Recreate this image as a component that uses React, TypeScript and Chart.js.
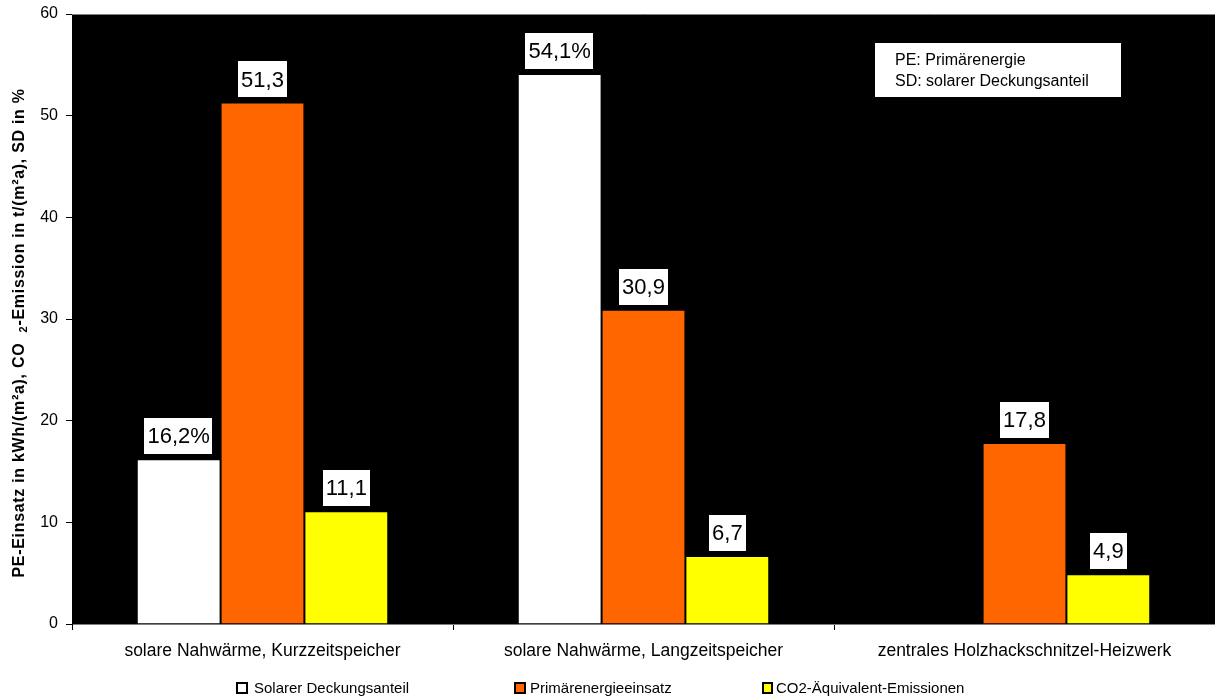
import React, { useEffect, useRef } from "react";
import { Chart, registerables } from "chart.js";

Chart.register(...registerables);

const categories = [
  "solare Nahwärme, Kurzzeitspeicher",
  "solare Nahwärme, Langzeitspeicher",
  "zentrales Holzhackschnitzel-Heizwerk",
];
const seriesNames = ["Solarer Deckungsanteil", "Primärenergieeinsatz", "CO2-Äquivalent-Emissionen"];
const solarShare: (number | null)[] = [16.2, 54.1, null];
const primaryEnergy: (number | null)[] = [51.3, 30.9, 17.8];
const co2Emissions: (number | null)[] = [11.1, 6.7, 4.9];
const seriesColors = ["#FFFFFF", "#FF6600", "#FFFF00"];
const labelSuffix = ["%", "", ""];
const yMin = 0;
const yMax = 60;
const yStep = 10;
const noteLines = ["PE: Primärenergie", "SD: solarer Deckungsanteil"];
const yTitleMain = "PE-Einsatz in kWh/(m²a), CO ";
const yTitleSub = "2";
const yTitleRest = "-Emission in t/(m²a), SD in %";

const FONT = "'Liberation Sans', Arial, Helvetica, sans-serif";

const decorPlugin = {
  id: "decor",
  beforeDraw(chart: any) {
    const { ctx, chartArea } = chart;
    ctx.save();
    ctx.fillStyle = "#000";
    ctx.fillRect(chartArea.left, chartArea.top, chartArea.right - chartArea.left, chartArea.bottom - chartArea.top);
    ctx.restore();
  },
  afterDatasetsDraw(chart: any) {
    const { ctx, chartArea } = chart;
    ctx.save();
    // top gray frame line
    ctx.strokeStyle = "#808080";
    ctx.lineWidth = 1;
    ctx.beginPath();
    ctx.moveTo(chartArea.left, chartArea.top + 0.5);
    ctx.lineTo(chartArea.right, chartArea.top + 0.5);
    ctx.stroke();

    // data labels
    ctx.font = `22px ${FONT}`;
    ctx.textAlign = "center";
    ctx.textBaseline = "middle";
    chart.data.datasets.forEach((ds: any, di: number) => {
      const meta = chart.getDatasetMeta(di);
      meta.data.forEach((el: any, i: number) => {
        const v = ds.data[i];
        if (v == null) return;
        const txt = v.toFixed(1).replace(".", ",") + labelSuffix[di];
        const w = ctx.measureText(txt).width + 6;
        const h = 36;
        const bottom = el.y - 5;
        ctx.fillStyle = "#fff";
        ctx.fillRect(Math.round(el.x - w / 2), Math.round(bottom - h), Math.round(w), h);
        ctx.fillStyle = "#000";
        ctx.fillText(txt, el.x, bottom - h / 2 + 1);
      });
    });

    // note box
    ctx.fillStyle = "#fff";
    ctx.fillRect(875, 43, 246, 54);
    ctx.fillStyle = "#000";
    ctx.font = `16px ${FONT}`;
    ctx.textAlign = "left";
    ctx.textBaseline = "alphabetic";
    ctx.fillText(noteLines[0], 895, 65);
    ctx.fillText(noteLines[1], 895, 86);

    // y title
    ctx.save();
    ctx.translate(24, 333);
    ctx.rotate(-Math.PI / 2);
    (ctx as any).letterSpacing = "0.7px";
    ctx.font = `bold 16px ${FONT}`;
    const wMain = ctx.measureText(yTitleMain + " ").width;
    const wRest = ctx.measureText(yTitleRest).width;
    ctx.font = `bold 11px ${FONT}`;
    const wSub = ctx.measureText(yTitleSub).width;
    const total = wMain + wSub + wRest;
    let x = -total / 2;
    ctx.textAlign = "left";
    ctx.textBaseline = "alphabetic";
    ctx.font = `bold 16px ${FONT}`;
    ctx.fillText(yTitleMain, x, 0);
    x += wMain;
    ctx.font = `bold 11px ${FONT}`;
    ctx.fillText(yTitleSub, x, 3);
    x += wSub;
    ctx.font = `bold 16px ${FONT}`;
    ctx.fillText(yTitleRest, x, 0);
    ctx.restore();

    // legend
    const legendItems = [
      { box: 237, w: 10, text: 254 },
      { box: 515, w: 10, text: 530 },
      { box: 763, w: 9, text: 776 },
    ];
    ctx.font = `15px ${FONT}`;
    ctx.textBaseline = "middle";
    ctx.textAlign = "left";
    legendItems.forEach((it, i) => {
      ctx.fillStyle = seriesColors[i];
      ctx.fillRect(it.box, 683, it.w, 10);
      ctx.strokeStyle = "#000";
      ctx.lineWidth = 2;
      ctx.strokeRect(it.box, 683, it.w, 10);
      ctx.fillStyle = "#000";
      ctx.fillText(seriesNames[i], it.text, 689);
    });
    ctx.restore();
  },
};

export default function App() {
  const ref = useRef<HTMLCanvasElement | null>(null);
  useEffect(() => {
    document.body.style.margin = "0";
    const canvas = ref.current!;
    const data = [solarShare, primaryEnergy, co2Emissions];
    const chart = new Chart(canvas, {
      type: "bar",
      data: {
        labels: categories,
        datasets: data.map((d, i) => ({
          label: seriesNames[i],
          data: d,
          backgroundColor: seriesColors[i],
          borderColor: "#000",
          borderWidth: 1,
          categoryPercentage: 0.66,
          barPercentage: 1.0,
        })),
      },
      options: {
        responsive: false,
        devicePixelRatio: 1,
        animation: false,
        layout: { padding: { top: 14, right: 0, left: 0, bottom: 0 } },
        plugins: {
          legend: { display: false },
          tooltip: { enabled: false },
        },
        scales: {
          x: {
            grid: {
              offset: true,
              drawOnChartArea: false,
              drawTicks: true,
              tickLength: 6,
              color: "#000",
            },
            border: { color: "#808080", width: 1 },
            ticks: {
              color: "#000",
              padding: 11,
              font: { family: FONT, size: 17.5 },
              maxRotation: 0,
              autoSkip: false,
            },
            afterFit(scale: any) {
              scale.height = 75;
              scale.paddingLeft = 0;
              scale.paddingRight = 0;
            },
          },
          y: {
            min: yMin,
            max: yMax,
            ticks: {
              stepSize: yStep,
              color: "#000",
              padding: 8,
              font: { family: FONT, size: 16 },
            },
            grid: {
              drawOnChartArea: false,
              drawTicks: true,
              tickLength: 6,
              color: "#000",
            },
            border: { color: "#000", width: 1 },
            afterFit(scale: any) {
              scale.width = 72;
              scale.paddingTop = 0;
              scale.paddingBottom = 0;
            },
          },
        },
      },
      plugins: [decorPlugin],
    });
    return () => chart.destroy();
  }, []);
  return (
    <div style={{ width: 1215, height: 699 }}>
      <canvas ref={ref} width={1215} height={699} />
    </div>
  );
}
